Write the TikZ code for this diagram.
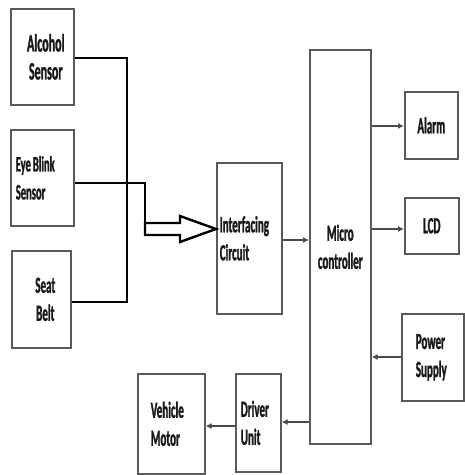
\documentclass[tikz,border=0pt]{standalone}
\usepackage{fontspec}
\newfontfamily\labfont{Carlito}[UprightFont={* Bold}, FakeStretch=0.48, FakeBold=1.2]
\usetikzlibrary{arrows.meta}
\definecolor{boxgray}{HTML}{5A5A5A}
\definecolor{arrgray}{HTML}{4A4A4A}
\tikzset{
  blk/.style={draw=boxgray, line width=1.6pt, inner sep=0pt, anchor=north west,
    font=\labfont\fontsize{23}{28}\selectfont, text=black!90},
  wire/.style={draw=black, line width=2.8pt},
  arr/.style={draw=arrgray, line width=1.6pt, -{Latex[length=6pt,width=6pt]}},
}
\begin{document}
\begin{tikzpicture}[x=1pt,y=-1pt]
\useasboundingbox (0,0) rectangle (465,475);
% boxes
\node[blk, minimum width=63pt, minimum height=96pt, align=center, font=\labfont\fontsize{25}{28}\selectfont] (alc) at (10,8) {\hspace*{7pt}Alcohol\\\hspace*{7pt}Sensor};
\node[blk, minimum height=96pt, text width=53pt, inner xsep=5pt, align=left, font=\labfont\fontsize{22}{28}\selectfont] (eye) at (10,129) {Eye\hspace{2pt}Blink\\Sensor};
\node[blk, minimum width=59pt, minimum height=97pt, align=center] (seat) at (11,250) {\hspace*{8pt}Seat\\\hspace*{8pt}Belt};
\node[blk, minimum height=151pt, text width=59pt, inner xsep=3pt, align=left] (intf) at (216,162) {Interfacing\\Circuit};
\node[blk, minimum width=61pt, minimum height=394pt, align=center] (mc) at (309,49) {Micro\\controller};
\node[blk, minimum width=53pt, minimum height=67pt, align=center] (alarm) at (404,91) {Alarm};
\node[blk, minimum width=54pt, minimum height=56pt, align=center] (lcd) at (404,197) {LCD};
\node[blk, minimum height=87pt, text width=46pt, inner xsep=8pt, align=left] (power) at (401,313) {\hspace*{6pt}Power\\\hspace*{6pt}Supply};
\node[blk, minimum height=98pt, text width=39pt, inner xsep=3pt, align=left] (driver) at (235,373) {\hspace*{2pt}Driver\\\hspace*{2pt}Unit};
\node[blk, minimum height=100pt, text width=55pt, inner xsep=6pt, align=left] (vehicle) at (137,373) {\hspace*{7pt}Vehicle\\\hspace*{7pt}Motor};
% sensor wiring
\coordinate (j1) at (127,58);
\coordinate (j2) at (127,302);
\draw[wire] (alc.east |- j1) -- (j1) -- (j2) -- (seat.east |- j2);
\coordinate (k1) at (145,183);
\coordinate (k2) at (145,223);
\draw[wire] (eye.east |- k1) -- (k1) -- (k2);
% hollow double arrow into interfacing circuit
\coordinate (tip) at (intf.west |- 0,229);
\draw[wire, line width=2.4pt, line join=miter, fill=white]
  (k2) -- (180,223) -- (180,216) -- (tip) -- (180,242) -- (180,235) -- (145,235) -- cycle;
% arrows
\coordinate (a1) at (0,240);
\draw[arr] (intf.east |- a1) -- (mc.west |- a1);
\draw[arr] (mc.east |- 0,126) -- (alarm.west |- 0,126);
\draw[arr] (mc.east |- 0,229) -- (lcd.west |- 0,229);
\draw[arr] (power.west |- 0,357) -- (mc.east |- 0,357);
\draw[arr] (mc.west |- 0,422) -- (driver.east |- 0,422);
\draw[arr] (driver.west |- 0,426) -- (vehicle.east |- 0,426);
\end{tikzpicture}
\end{document}
